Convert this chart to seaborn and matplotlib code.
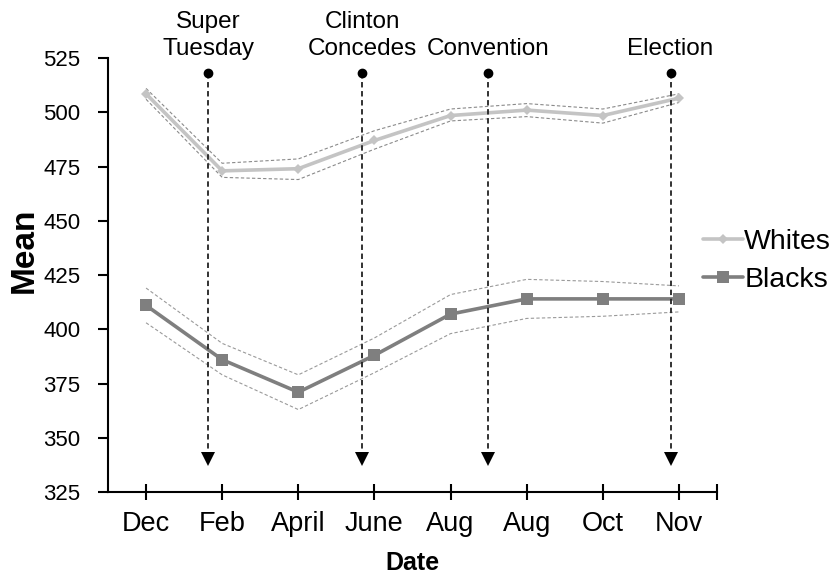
import numpy as np
import pandas as pd
import matplotlib
matplotlib.use("Agg")
import matplotlib.pyplot as plt
import seaborn as sns
from matplotlib.lines import Line2D

# Survey waves (two separate August waves)
dates = ["Dec", "Feb", "April", "June", "Aug", "Aug", "Oct", "Nov"]

whites_mean = [508.5, 473, 474, 487, 498.5, 501, 498.5, 506.5]
whites_upper = [511, 476.5, 478.5, 491.5, 501.5, 504, 501.5, 508.5]
whites_lower = [506, 470, 469, 483, 496, 498, 495, 504.5]

blacks_mean = [411, 386, 371, 388, 407, 414, 414, 414]
blacks_upper = [419, 393.5, 379, 396, 416, 423, 422, 420]
blacks_lower = [403, 379, 363, 380, 398, 405, 406, 408]

# Campaign events: position along the date axis and label
event_names = ["Super\nTuesday", "Clinton\nConcedes", "Convention", "Election"]
event_pos = [0.82, 2.84, 4.49, 6.89]

sns.set_theme(style="white")
plt.rcParams["font.family"] = ["Liberation Sans", "DejaVu Sans"]
plt.rcParams["text.color"] = "black"
plt.rcParams["axes.labelcolor"] = "black"
plt.rcParams["xtick.color"] = "black"
plt.rcParams["ytick.color"] = "black"

pos = np.arange(len(dates))
df = pd.DataFrame({
    "pos": np.concatenate([pos, pos]),
    "Mean": whites_mean + blacks_mean,
    "Group": ["Whites"] * len(dates) + ["Blacks"] * len(dates),
})

fig = plt.figure(figsize=(8.32, 5.75), dpi=100)
ax = fig.add_axes([0.1298, 0.1443, 0.7320, 0.7548])

white_col = "#c4c4c4"
black_col = "#7f7f7f"

# Confidence bands as thin dashed lines
for band, col in [(whites_upper, "#8a8a8a"), (whites_lower, "#8a8a8a"),
                  (blacks_upper, "#9a9a9a"), (blacks_lower, "#9a9a9a")]:
    ax.plot(pos, band, color=col, lw=0.8, ls=(0, (3, 2)), zorder=2)

sns.lineplot(data=df, x="pos", y="Mean", hue="Group", style="Group",
             palette={"Whites": white_col, "Blacks": black_col},
             markers={"Whites": "D", "Blacks": "s"},
             dashes={"Whites": "", "Blacks": ""},
             linewidth=2.6, legend=False, ax=ax, zorder=3)
for ln, ms in zip(ax.lines[-2:], [5, 8]):
    ln.set_markersize(ms)
    ln.set_markeredgewidth(0)

# Event markers: dot on top, dashed line, arrowhead at the bottom
for name, x in zip(event_names, event_pos):
    ax.plot([x, x], [518, 343], color="#222222", lw=1.3, ls=(0, (3, 2)), zorder=4)
    ax.plot([x], [518], marker="o", color="black", ms=6, zorder=5, clip_on=False)
    ax.plot([x], [340.3], marker="v", color="black", ms=10, mew=0, zorder=5)
    ax.text(x, 524, name, ha="center", va="bottom", fontsize=17.5,
            linespacing=1.3, color="black", clip_on=False)

ax.set_xlim(-0.5, 7.5)
ax.set_ylim(325, 525)
ax.set_yticks(np.arange(325, 526, 25))
ax.set_xticks(list(pos) + [7.5])
ax.set_xticklabels(dates + [""])

for s in ["top", "right"]:
    ax.spines[s].set_visible(False)
for s in ["left", "bottom"]:
    ax.spines[s].set_color("black")
    ax.spines[s].set_linewidth(1.5)

ax.tick_params(axis="y", direction="out", length=7, width=1.5, color="black",
               labelsize=16, pad=13, left=True)
ax.tick_params(axis="x", direction="inout", length=12, width=1.5, color="black",
               labelsize=19.5, pad=8, bottom=True)

ax.set_xlabel("Date", fontsize=18, fontweight="bold", labelpad=10)
ax.set_ylabel("Mean", fontsize=24, fontweight="bold")
ax.yaxis.set_label_coords(-0.112, 0.558)

handles = [
    Line2D([], [], color=white_col, lw=2.6, marker="D", ms=5, mew=0),
    Line2D([], [], color=black_col, lw=2.6, marker="s", ms=8, mew=0),
]
ax.legend(handles, ["Whites", "Blacks"], loc="center left",
          bbox_to_anchor=(0.935, 0.532), frameon=False, fontsize=20.5,
          handlelength=1.4, handletextpad=0.05, labelspacing=0.4)

fig.savefig("out.png", dpi=100)
